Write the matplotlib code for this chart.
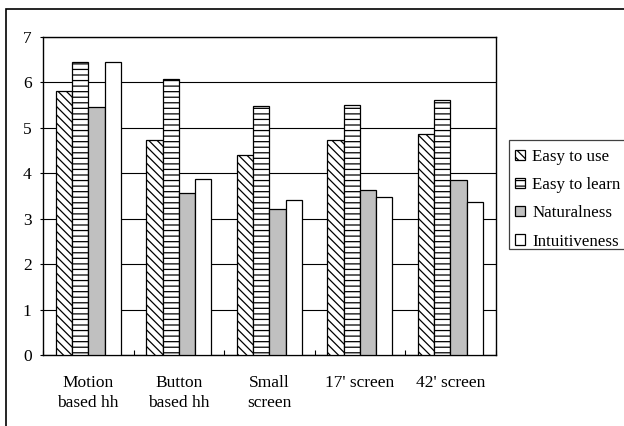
import matplotlib
matplotlib.use("Agg")
import matplotlib.pyplot as plt
import numpy as np
from matplotlib.patches import Rectangle

categories = ["Motion\nbased hh", "Button\nbased hh", "Small\nscreen", "17' screen", "42' screen"]
series_names = ["Easy to use", "Easy to learn", "Naturalness", "Intuitiveness"]
easy_to_use = [5.80, 4.74, 4.40, 4.74, 4.86]
easy_to_learn = [6.44, 6.07, 5.48, 5.51, 5.60]
naturalness = [5.45, 3.56, 3.21, 3.64, 3.85]
intuitiveness = [6.44, 3.87, 3.41, 3.47, 3.37]
yticks = [0, 1, 2, 3, 4, 5, 6, 7]

series = [easy_to_use, easy_to_learn, naturalness, intuitiveness]
faces = ["white", "white", "#c0c0c0", "white"]
hatches = ["\\\\\\\\", "---", None, None]

plt.rcParams['font.family'] = ['Liberation Serif', 'DejaVu Serif']
plt.rcParams['hatch.linewidth'] = 0.9

W, H = 624, 426
fig = plt.figure(figsize=(W / 100, H / 100), dpi=100)
ax = fig.add_axes([43 / W, 1 - 355.3 / H, (495.7 - 43) / W, (355.3 - 36.7) / H])

x = np.arange(len(categories))
bw = 0.18
handles = []
for i, (vals, fc, h) in enumerate(zip(series, faces, hatches)):
    b = ax.bar(x + (i - 1.5) * bw, vals, width=bw, facecolor=fc, edgecolor="black",
               linewidth=0.9, hatch=h, label=series_names[i], zorder=3)
    handles.append(b)

ax.set_xlim(-0.5, len(categories) - 0.5)
ax.set_ylim(0, 7)
ax.set_yticks(yticks)
ax.set_yticklabels([str(t) for t in yticks])
ax.set_xticks(x)
ax.set_xticklabels(categories, linespacing=1.35)
ax.set_xticks(np.arange(len(categories) + 1) - 0.5, minor=True)
ax.tick_params(axis='x', which='major', length=0, pad=14, labelsize=12.5)
ax.tick_params(axis='x', which='minor', direction='in', length=3.6, width=0.8)
ax.tick_params(axis='y', which='major', direction='out', length=2.2, width=0.8, pad=6, labelsize=12.5)
ax.yaxis.grid(True, color='black', linewidth=0.8, zorder=0)
ax.set_axisbelow(True)
for s in ax.spines.values():
    s.set_linewidth(1.0)
    s.set_color('black')

# outer chart border (partially cropped)
fig.patches.append(Rectangle((6.3 / W, -0.1), 1.2, 1.1 - 9.3 / H, transform=fig.transFigure,
                             fill=False, edgecolor='black', linewidth=1.2))

# legend box (cropped at right edge)
fig.patches.append(Rectangle((509.3 / W, 1 - 249 / H), 0.2, (249 - 140) / H, transform=fig.transFigure,
                             fill=True, facecolor='white', edgecolor='#404040', linewidth=0.9))

leg = fig.legend(handles=handles, labels=series_names, loc='upper left',
                 bbox_to_anchor=(509.3 / W, 1 - 143 / H), bbox_transform=fig.transFigure,
                 borderaxespad=0, fontsize=12.2, handlelength=0.55, handleheight=0.55,
                 handletextpad=0.45, labelspacing=0.72, borderpad=0.35,
                 frameon=False)

fig.savefig("out.png", dpi=100)
